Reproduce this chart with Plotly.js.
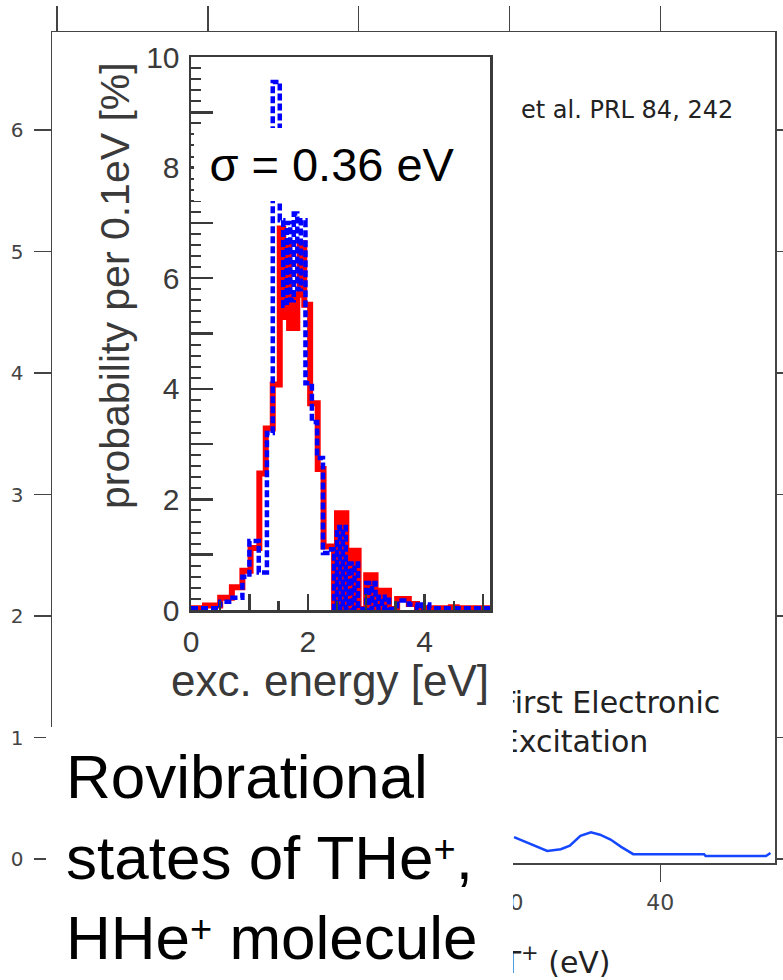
<!DOCTYPE html>
<html>
<head>
<meta charset="utf-8">
<script src="https://cdn.plot.ly/plotly-3.0.1.min.js"></script>
<style>html,body{margin:0;padding:0;background:#fff}#chart{width:783px;height:980px}</style>
</head>
<body>
<div id="chart"></div>
<script>
// ---------- data: inset histogram (excitation energy, probability per 0.1 eV in %) ----------
const redEdges = [0, 0.24, 0.5, 0.7, 0.88, 1.02, 1.17, 1.28, 1.4, 1.52, 1.58, 1.63, 1.68, 1.73, 1.77, 1.82, 1.86, 1.94, 2.04, 2.17, 2.27, 2.4, 2.45, 2.5, 2.55, 2.6, 2.66, 2.7, 2.76, 2.8, 2.87, 3.0, 3.05, 3.1, 3.16, 3.21, 3.27, 3.32, 3.39, 3.53, 3.73, 3.87, 4.45, 4.55, 5.12];
const redProb  = [0.03, 0.08, 0.22, 0.41, 0.71, 1.12, 2.47, 3.28, 4.08, 6.9, 5.3, 6.6, 5.1, 5.7, 5.1, 5.7, 6.63, 5.52, 3.74, 2.55, 1.15, 1.15, 0.02, 1.75, 0.02, 1.75, 0.02, 1.07, 0.02, 1.07, 0.02, 0.63, 0.02, 0.63, 0.02, 0.35, 0.02, 0.35, 0.02, 0.2, 0.11, 0.03, 0.05, 0.03];

const blueEdges = [0, 0.5, 0.71, 0.88, 1.0, 1.16, 1.3, 1.4, 1.52, 1.58, 1.64, 1.7, 1.76, 1.82, 1.88, 1.96, 2.07, 2.16, 2.26, 2.4, 2.45, 2.5, 2.55, 2.6, 2.65, 2.7, 2.75, 2.8, 2.86, 3.0, 3.05, 3.1, 3.16, 3.21, 3.27, 3.32, 3.39, 3.53, 3.73, 3.87, 3.95, 4.08, 5.12];
const blueProb  = [0.03, 0.15, 0.22, 0.6, 1.25, 0.68, 3.2, 9.55, 7.05, 5.5, 7.0, 5.6, 7.17, 5.8, 7.05, 4.1, 3.4, 2.75, 1.03, 1.1, 0.02, 1.5, 0.02, 1.5, 0.02, 0.84, 0.02, 0.84, 0.02, 0.49, 0.02, 0.49, 0.02, 0.24, 0.02, 0.24, 0.02, 0.17, 0.1, 0.03, 0.1, 0.03];

// ---------- data: background spectrum (visible part) ----------
const outerE = [30.3, 31.4, 32.5, 33.4, 34.0, 34.7, 35.4, 36.0, 36.7, 37.4, 38.2, 42.9, 43.0, 47.0, 47.3];
const outerP = [0.18, 0.12, 0.066, 0.08, 0.11, 0.19, 0.22, 0.2, 0.16, 0.1, 0.04, 0.04, 0.025, 0.025, 0.05];

// ---------- tick labels ----------
const outerXTicks = [0, 10, 20, 30, 40];
const outerYTicks = [0, 1, 2, 3, 4, 5, 6];
const insetXTicks = [0, 1, 2, 3, 4, 5];
const insetXText  = ['0', '', '2', '', '4', ''];
const insetYTicks = [0, 1, 2, 3, 4, 5, 6, 7, 8, 9, 10];
const insetYText  = ['0', '', '2', '', '4', '', '6', '', '8', '', '10'];

// label placement for the "First Electronic Excitation" note (outer data coords)
const noteX = [29.35], noteY = [1.1];

const W = 783, H = 980;
const px = v => v / W;
const py = v => 1 - v / H;
const stepY = a => a.concat([a[a.length - 1]]);
const smallSup = '<span style="font-size:38px;baseline-shift:17px">+</span>';
const outerXRange = [-0.33, 47.6];

const traces = [
  {type: 'scatter', mode: 'lines', x: outerE, y: outerP, xaxis: 'x', yaxis: 'y',
   line: {color: '#1447ff', width: 2.5}, hoverinfo: 'skip'},
  {type: 'scatter', mode: 'text', x: noteX, y: noteY, xaxis: 'x', yaxis: 'y',
   text: ['First Electronic<br>Excitation'], textposition: 'middle right',
   textfont: {family: 'DejaVu Sans', size: 30, color: '#222'}, hoverinfo: 'skip'},
  {type: 'scatter', mode: 'lines', x: [], y: [], xaxis: 'x4', yaxis: 'y', hoverinfo: 'skip'},
  {type: 'scatter', mode: 'lines', x: [], y: [], xaxis: 'x2', yaxis: 'y2', hoverinfo: 'skip'},
  {type: 'scatter', mode: 'lines', x: redEdges, y: stepY(redProb), xaxis: 'x3', yaxis: 'y3',
   line: {shape: 'hv', color: '#ff0000', width: 6}, hoverinfo: 'skip'},
  {type: 'scatter', mode: 'lines', x: blueEdges, y: stepY(blueProb), xaxis: 'x3', yaxis: 'y3',
   line: {shape: 'hv', color: '#0000ff', width: 4.5, dash: '7px,3px'}, hoverinfo: 'skip'}
];

const layout = {
  width: W, height: H,
  margin: {l: 0, r: 0, t: 0, b: 0},
  paper_bgcolor: '#ffffff', plot_bgcolor: '#ffffff',
  showlegend: false,
  xaxis: {
    domain: [px(52), px(775)], range: outerXRange, anchor: 'y',
    tickmode: 'array', tickvals: outerXTicks,
    ticks: 'outside', ticklen: 17, tickwidth: 1.5, tickcolor: '#444',
    showline: true, linecolor: '#444', linewidth: 1.5, mirror: true,
    showgrid: false, zeroline: false, ticklabelstandoff: 2,
    tickfont: {family: 'DejaVu Sans', size: 22, color: '#444'}
  },
  xaxis4: {
    overlaying: 'x', side: 'top', anchor: 'y', range: outerXRange,
    tickmode: 'array', tickvals: outerXTicks, showticklabels: false,
    ticks: 'outside', ticklen: 25, tickwidth: 1.5, tickcolor: '#444',
    showline: false, showgrid: false, zeroline: false
  },
  yaxis: {
    domain: [py(863), py(32)], range: [-0.033, 6.807], anchor: 'x',
    tickmode: 'array', tickvals: outerYTicks,
    ticks: 'outside', ticklen: 17, tickwidth: 1.5, tickcolor: '#444',
    showline: true, linecolor: '#444', linewidth: 1.5, mirror: 'ticks',
    showgrid: false, zeroline: false, ticklabelstandoff: 6,
    tickfont: {family: 'DejaVu Sans', size: 20, color: '#444'}
  },
  xaxis2: {domain: [px(56), px(513)], range: [0, 1], visible: false, anchor: 'y2'},
  yaxis2: {domain: [py(727), py(36)], range: [0, 1], visible: false, anchor: 'x2'},
  xaxis3: {
    domain: [px(191), px(490)], range: [0, 5.12], anchor: 'y3',
    tickmode: 'array', tickvals: insetXTicks, ticktext: insetXText,
    ticks: 'inside', ticklen: 16, tickwidth: 2.5, tickcolor: '#3a3a3a',
    minor: {tickmode: 'linear', tick0: 0, dtick: 0.5, ticks: 'inside', ticklen: 9, tickwidth: 2.5, tickcolor: '#3a3a3a', showgrid: false},
    showline: true, linecolor: '#3a3a3a', linewidth: 2.5, mirror: true,
    showgrid: false, zeroline: false, ticklabelstandoff: 3,
    tickfont: {family: 'Liberation Sans', size: 30, color: '#3a3a3a'}
  },
  yaxis3: {
    domain: [py(610), py(57)], range: [0, 10], anchor: 'x3',
    tickmode: 'array', tickvals: insetYTicks, ticktext: insetYText,
    ticks: 'inside', ticklen: 22, tickwidth: 2.5, tickcolor: '#3a3a3a',
    minor: {tickmode: 'linear', tick0: 0, dtick: 0.2, ticks: 'inside', ticklen: 10, tickwidth: 2, tickcolor: '#3a3a3a', showgrid: false},
    showline: true, linecolor: '#3a3a3a', linewidth: 2.5, mirror: true,
    showgrid: false, zeroline: false, ticklabelstandoff: 3,
    tickfont: {family: 'Liberation Sans', size: 30, color: '#3a3a3a'}
  },
  annotations: [
    {xref: 'paper', yref: 'paper', x: px(519), y: py(110), xanchor: 'left', yanchor: 'middle',
     text: 'et al. PRL 84, 242', showarrow: false,
     font: {family: 'DejaVu Sans', size: 24, color: '#222'}},
    {xref: 'paper', yref: 'paper', x: px(613), y: py(960), xanchor: 'right', yanchor: 'middle',
     text: 'Excitation energy of HeT<sup>+</sup> (eV)', showarrow: false,
     font: {family: 'DejaVu Sans', size: 30, color: '#222'}},
    {xref: 'paper', yref: 'paper', x: px(46), y: 0, xanchor: 'left', yanchor: 'bottom',
     text: '&nbsp;', showarrow: false, width: 467, height: 253,
     bgcolor: '#ffffff', borderpad: 0, borderwidth: 0},
    {xref: 'paper', yref: 'paper', x: px(64), y: py(857), xanchor: 'left', yanchor: 'middle',
     text: 'Rovibrational<br>states of THe' + smallSup + ',<br>HHe' + smallSup + ' molecule', align: 'left',
     showarrow: false, font: {family: 'Liberation Sans', size: 62, color: '#000'}},
    {xref: 'paper', yref: 'paper', x: px(194), y: py(128), xanchor: 'left', yanchor: 'top',
     text: '\u03c3 = 0.36 eV', showarrow: false, width: 276, height: 73, align: 'center',
     bgcolor: '#ffffff', borderpad: 0, borderwidth: 0,
     font: {family: 'Liberation Sans', size: 47, color: '#000'}},
    {xref: 'paper', yref: 'paper', x: px(115), y: py(286), xanchor: 'center', yanchor: 'middle',
     text: 'probability per 0.1eV [%]', textangle: -90, showarrow: false,
     font: {family: 'Liberation Sans', size: 41, color: '#3a3a3a'}},
    {xref: 'paper', yref: 'paper', x: px(330), y: py(680), xanchor: 'center', yanchor: 'middle',
     text: 'exc. energy [eV]', showarrow: false,
     font: {family: 'Liberation Sans', size: 44, color: '#3a3a3a'}}
  ]
};

Plotly.newPlot('chart', traces, layout, {displayModeBar: false, staticPlot: true});
</script>
</body>
</html>
